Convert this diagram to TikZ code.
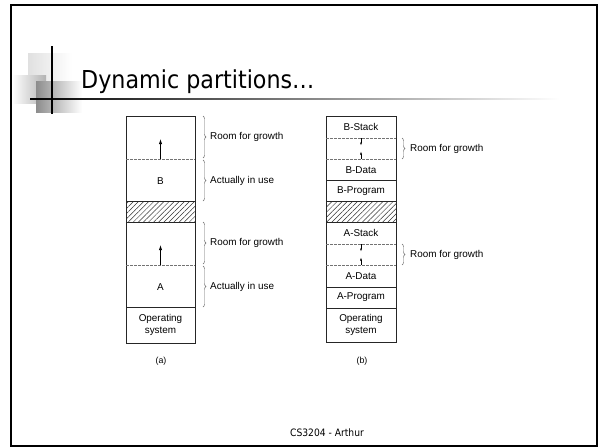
\documentclass[tikz,border=0pt]{standalone}
\usepackage{fontspec}
\setmainfont{Liberation Sans}
\newfontfamily\slidefont[FakeStretch=0.9]{DejaVu Sans}
\usetikzlibrary{patterns.meta,decorations.pathreplacing,arrows.meta}

\tikzset{
  wall/.style = {draw=black!85, line width=.8pt},
  gapline/.style = {draw=black!55, line width=.6pt, dash pattern=on 2.5pt off 1.5pt},
  growarrow/.style = {draw=black, line width=.7pt, -{Latex[length=5pt,width=3.2pt]}},
  tinyarrow/.style = {draw=black, line width=.5pt, -{Latex[length=3pt,width=2pt]}},
  spanbrace/.style = {draw=black!60, line width=.45pt, decorate, decoration={brace, amplitude=3pt}},
  lbl/.style = {font=\fontsize{9.9}{11.5}\selectfont, inner sep=0pt, align=center},
  sidelbl/.style = {lbl, anchor=west},
  figcap/.style = {font=\fontsize{8.8}{10}\selectfont, inner sep=0pt}
}

\begin{document}
\begin{tikzpicture}
        [x = 1pt, y = -1pt]

        \useasboundingbox (0,0) rectangle (600,447);

        % slide frame and title decoration
        \draw[line width=2pt] (11,5) rectangle (597,446);
        \shade[left color=black!12, right color=white] (28,53) rectangle (72,83);
        \shade[left color=white, right color=black!30] (12,75) rectangle (46,103);
        \shade[left color=black!45, right color=white] (36,81) rectangle (82,112);
        \shade[left color=black, right color=white] (30,98) rectangle (560,99.6);
        \draw[line width=2pt] (52,46) -- (52,114);
        \node[font=\slidefont\fontsize{24.7}{28}\selectfont, anchor=base west, inner sep=0pt]
          (title) at (81,88) {Dynamic partitions\dots};

        % (a)
        \fill[pattern={Lines[angle=45,distance=3.6pt,line width=.5pt]}, pattern color=black!80]
          (126,201) rectangle (195,222);
        \draw[wall] (126,116) rectangle (195,343);
        \foreach \y in {201, 222, 307}
          \draw[wall] (126,\y) -- (195,\y);
        \foreach \y in {159, 265}
        {
          \draw[gapline] (126,\y) -- (195,\y);
          \draw[growarrow] (160.5,\y) -- (160.5,\y-20);
        }
        \node[lbl] (bA) at (160.5,181) {B};
        \node[lbl] (aA) at (160.5,287) {A};
        \node[lbl] (osA) at (160.5,325) {Operating\\system};

        \foreach \top/\bot/\txt [count = \i] in
          {116/158/Room for growth, 160/201/Actually in use,
           222/264/Room for growth, 266/307/Actually in use}
        {
          \coordinate (sa\i) at (203,\top);
          \coordinate (ea\i) at (203,\bot);
          \draw[spanbrace] (sa\i) -- (ea\i);
          \node[sidelbl] (na\i) at (210,{(\top+\bot)/2}) {\txt};
        }
        \node[figcap] (capA) at (161,361) {(a)};

        % (b)
        \fill[pattern={Lines[angle=45,distance=3.6pt,line width=.5pt]}, pattern color=black!80]
          (326,201) rectangle (396,222);
        \draw[wall] (326,116) rectangle (396,342);
        \foreach \y in {180, 201, 222, 287, 308}
          \draw[wall] (326,\y) -- (396,\y);
        \foreach \y in {138, 244}
        {
          \draw[gapline] (326,\y) -- (396,\y);
          \draw[gapline] (326,\y+21) -- (396,\y+21);
          \draw[tinyarrow] (361,\y) -- (361,\y+7.5);
          \draw[tinyarrow] (361,\y+21) -- (361,\y+13.5);
        }
        \foreach \y/\txt [count = \i] in
          {127/B-Stack, 170/B-Data, 191/B-Program,
           233/A-Stack, 276/A-Data, 297/A-Program}
          \node[lbl] (pb\i) at (361,\y) {\txt};
        \node[lbl] (osB) at (361,325) {Operating\\system};

        \foreach \top [count = \i] in {138, 244}
        {
          \coordinate (sb\i) at (402,\top);
          \coordinate (eb\i) at (402,\top+21);
          \draw[spanbrace] (sb\i) -- (eb\i);
          \node[sidelbl] (nb\i) at (410,\top+10.5) {Room for growth};
        }
        \node[figcap] (capB) at (362,361) {(b)};

        % footer
        \node[font=\slidefont\fontsize{10.2}{12}\selectfont, inner sep=0pt]
          (foot) at (327,433) {CS3204 - Arthur};
      \end{tikzpicture}
\end{document}
